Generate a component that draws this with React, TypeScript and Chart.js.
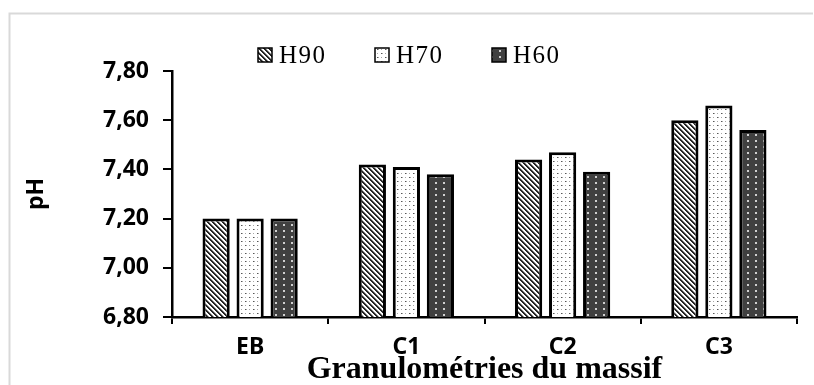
import React, { useEffect, useRef } from 'react';
import { Chart, registerables } from 'chart.js';

Chart.register(...registerables);

const categories = ['EB', 'C1', 'C2', 'C3'];
const seriesNames = ['H90', 'H70', 'H60'];
const h90Values = [7.2, 7.42, 7.44, 7.6];
const h70Values = [7.2, 7.41, 7.47, 7.66];
const h60Values = [7.2, 7.38, 7.39, 7.56];
const yTickValues = [6.8, 7.0, 7.2, 7.4, 7.6, 7.8];
const yTickLabels = ['6,80', '7,00', '7,20', '7,40', '7,60', '7,80'];
const xTitle = 'Granulométries du massif';
const yTitle = 'pH';

function makePattern(kind: string): CanvasPattern | string {
  const c = document.createElement('canvas');
  const ctx = c.getContext('2d')!;
  if (kind === 'stripes') {
    const n = 5;
    c.width = n;
    c.height = n;
    ctx.fillStyle = '#ffffff';
    ctx.fillRect(0, 0, n, n);
    for (let x = 0; x < n; x++) {
      for (let y = 0; y < n; y++) {
        const d = (((x - y) % n) + n) % n;
        if (d < 2) {
          ctx.fillStyle = '#262626';
          ctx.fillRect(x, y, 1, 1);
        } else if (d === 2) {
          ctx.fillStyle = '#9a9a9a';
          ctx.fillRect(x, y, 1, 1);
        }
      }
    }
  } else if (kind === 'lightdots') {
    c.width = 8;
    c.height = 8;
    ctx.fillStyle = '#ffffff';
    ctx.fillRect(0, 0, 8, 8);
    ctx.fillStyle = '#555555';
    ctx.fillRect(1, 1, 1, 1);
    ctx.fillRect(5, 5, 1, 1);
    ctx.fillStyle = '#a8a8a8';
    ctx.fillRect(2, 1, 1, 1);
    ctx.fillRect(6, 5, 1, 1);
    ctx.fillRect(5, 1, 1, 1);
    ctx.fillRect(1, 5, 1, 1);
  } else {
    c.width = 8;
    c.height = 6;
    ctx.fillStyle = '#404040';
    ctx.fillRect(0, 0, 8, 6);
    ctx.fillStyle = '#d0d0d0';
    ctx.fillRect(3, 2, 2, 2);
  }
  return ctx.createPattern(c, 'repeat') || '#404040';
}

export default function App() {
  const canvasRef = useRef<HTMLCanvasElement | null>(null);

  useEffect(() => {
    document.body.style.margin = '0';
    document.body.style.background = '#ffffff';
    const canvas = canvasRef.current;
    if (!canvas) return;

    const fills = [makePattern('stripes'), makePattern('lightdots'), makePattern('darkdots')];
    const values = [h90Values, h70Values, h60Values];

    const framePlugin = {
      id: 'frameAndLegend',
      beforeDraw(chart: any) {
        const ctx = chart.ctx;
        ctx.save();
        ctx.fillStyle = '#ffffff';
        ctx.fillRect(0, 0, chart.width, chart.height);
        ctx.strokeStyle = '#d9d9d9';
        ctx.lineWidth = 2;
        ctx.beginPath();
        ctx.moveTo(9.5, chart.height + 5);
        ctx.lineTo(9.5, 13.5);
        ctx.lineTo(813, 13.5);
        ctx.stroke();
        ctx.restore();
      },
      afterDraw(chart: any) {
        const ctx = chart.ctx;
        ctx.save();
        const startX = 258;
        const step = 117;
        const boxY = 48;
        const box = 14;
        chart.data.datasets.forEach((ds: any, i: number) => {
          const x = startX + i * step;
          ctx.fillStyle = ds.backgroundColor;
          ctx.fillRect(x, boxY, box, box);
          ctx.strokeStyle = '#000000';
          ctx.lineWidth = 1.5;
          ctx.strokeRect(x, boxY, box, box);
          ctx.fillStyle = '#000000';
          ctx.font = '25px "Liberation Serif", serif';
          (ctx as any).letterSpacing = '1.5px';
          ctx.textBaseline = 'alphabetic';
          ctx.textAlign = 'left';
          ctx.fillText(ds.label, x + 21, 63);
        });
        ctx.restore();
      },
    };

    const chart = new Chart(canvas, {
      type: 'bar',
      data: {
        labels: categories,
        datasets: seriesNames.map((name, i) => ({
          label: name,
          data: values[i],
          backgroundColor: fills[i] as any,
          borderColor: '#000000',
          borderWidth: 3,
          borderSkipped: 'start',
          categoryPercentage: 0.653,
          barPercentage: 0.8,
        })),
      },
      options: {
        responsive: false,
        animation: false,
        events: [],
        layout: { padding: { left: 0, top: 71, right: 17, bottom: 0 } },
        plugins: {
          legend: { display: false },
          tooltip: { enabled: false },
          title: { display: false },
        },
        scales: {
          x: {
            type: 'category',
            afterFit(scale: any) {
              scale.height = 68;
            },
            grid: {
              display: true,
              offset: true,
              drawOnChartArea: false,
              drawTicks: true,
              tickLength: 7,
              color: '#000000',
              lineWidth: 2,
            },
            border: { display: true, color: '#000000', width: 2.5 },
            ticks: {
              color: '#000000',
              padding: 10,
              font: { family: '"Noto Sans", sans-serif', size: 23, weight: 'bold' },
              maxRotation: 0,
            },
            title: {
              display: true,
              text: xTitle,
              color: '#000000',
              font: { family: '"Liberation Serif", serif', size: 32, weight: 'bold' },
              padding: { top: 0, bottom: -4 },
            },
          },
          y: {
            type: 'linear',
            min: 6.8,
            max: 7.8,
            afterFit(scale: any) {
              scale.width = 172;
            },
            afterBuildTicks(scale: any) {
              scale.ticks = yTickValues.map((v) => ({ value: v }));
            },
            grid: {
              display: true,
              drawOnChartArea: false,
              drawTicks: true,
              tickLength: 9,
              color: '#000000',
              lineWidth: 2,
            },
            border: { display: true, color: '#000000', width: 2.5 },
            ticks: {
              color: '#000000',
              padding: 14,
              font: { family: '"Noto Sans", sans-serif', size: 23, weight: 'bold' },
              callback(_v: any, index: number) {
                return yTickLabels[index];
              },
            },
            title: {
              display: true,
              text: yTitle,
              color: '#000000',
              font: { family: '"Noto Sans", sans-serif', size: 23, weight: 'bold' },
              padding: { top: 23, bottom: 0 },
            },
          },
        },
      },
      plugins: [framePlugin],
    });

    return () => chart.destroy();
  }, []);

  return (
    <div style={{ position: 'absolute', left: 0, top: 0, width: 814, height: 385 }}>
      <canvas ref={canvasRef} width={814} height={385} style={{ display: 'block' }} />
    </div>
  );
}
